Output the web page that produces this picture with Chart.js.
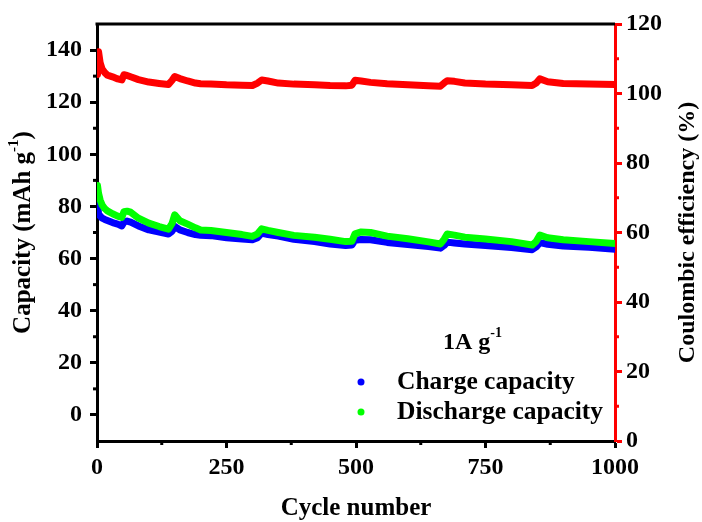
<!DOCTYPE html>
<html>
<head>
<meta charset="utf-8">
<script src="https://cdn.jsdelivr.net/npm/chart.js@4.4.1/dist/chart.umd.min.js"></script>
<style>
  html, body { margin:0; padding:0; background:#fff; }
  #wrap { width:702px; height:522px; }
</style>
</head>
<body>
<div id="wrap"><canvas id="chart" width="702" height="522"></canvas></div>
<script>
// Cycle data (sampled cycles) for charge/discharge capacity and coulombic efficiency
const cycles = [1,3,6,10,15,20,30,40,48,52,58,65,80,100,120,138,145,150,160,175,190,200,220,250,280,300,310,318,330,350,380,420,450,480,492,498,510,528,560,600,640,663,670,676,690,710,750,800,840,848,855,870,900,950,1000];
const chargeCap = [82,77,76.3,75.5,75,74.6,73.8,73.2,72.5,74,74.4,74,72.5,71,70.2,69.4,70.5,72.4,71,70,69.2,68.9,68.8,68,67.5,67.2,68,69.8,69.2,68.6,67.4,66.5,65.6,65,65.2,67,67.3,67.2,66.2,65.4,64.6,64,65,66.3,66,65.6,65,64.2,63.4,64.5,66.1,65.5,64.8,64.3,63.6];
const dischargeCap = [88,85,82.5,80.5,79.2,78.3,77.2,76.3,75.8,78,78.2,77.8,75.5,73.6,72.3,71.3,73.5,76.8,74.5,73.2,71.8,71,70.8,70,69.2,68.5,69.5,71.4,70.8,70,68.9,68.2,67.4,66.5,66.6,69.5,70.2,70,68.6,67.6,66.4,65.6,67.4,69.4,69,68.2,67.5,66.5,65.2,66.6,69,68,67.2,66.5,65.8];
const coulombic = [105.5,112,108.9,107,106,105.3,104.8,104.2,103.9,105.4,105.2,104.8,104,103.3,102.9,102.6,103.8,104.9,104.3,103.6,103,102.8,102.7,102.5,102.4,102.3,103,103.9,103.6,103,102.7,102.5,102.3,102.2,102.4,103.8,103.6,103.2,102.8,102.5,102.2,102.1,103,103.7,103.5,103,102.7,102.5,102.3,103,104.2,103.4,102.9,102.7,102.6];

const xTicks = [0,250,500,750,1000];
const xMinor = [125,375,625,875];
const capTicks = [0,20,40,60,80,100,120,140];
const capMinor = [10,30,50,70,90,110,130];
const ceTicks = [0,20,40,60,80,100,120];
const ceMinor = [10,30,50,70,90,110];

const FONT = '"Liberation Serif", "Times New Roman", serif';
const RED = '#ff0000';
const TICK_FONT = { family: FONT, size: 24, weight: 'bold' };

function pts(vals){ return cycles.map((c,i)=>({ x:c, y:vals[i] })); }

// draws text with an optional superscript part, centred on x
function richText(ctx, parts, x, y, size, align){
  const widths = parts.map(p=>{
    ctx.font = 'bold '+(p.sup ? Math.round(size*0.6) : size)+'px '+FONT;
    return ctx.measureText(p.t).width;
  });
  const total = widths.reduce((a,b)=>a+b,0);
  let cx = align==='left' ? x : x - total/2;
  ctx.textAlign = 'left';
  ctx.textBaseline = 'middle';
  parts.forEach((p,i)=>{
    ctx.font = 'bold '+(p.sup ? Math.round(size*0.6) : size)+'px '+FONT;
    ctx.fillText(p.t, cx, p.sup ? y - size*0.4 : y);
    cx += widths[i];
  });
}

const extras = {
  id: 'extras',
  afterDraw(chart){
    const ctx = chart.ctx;
    const a = chart.chartArea;
    const sx = chart.scales.x, sl = chart.scales.yL, sr = chart.scales.yR;
    ctx.save();
    // top frame
    ctx.strokeStyle = '#000';
    ctx.lineWidth = 3;
    ctx.beginPath();
    ctx.moveTo(a.left-1.5, a.top);
    ctx.lineTo(a.right, a.top);
    ctx.stroke();
    // minor ticks
    xMinor.forEach(v=>{
      const px = sx.getPixelForValue(v);
      ctx.beginPath(); ctx.moveTo(px, a.bottom); ctx.lineTo(px, a.bottom+4); ctx.stroke();
    });
    capMinor.forEach(v=>{
      const py = sl.getPixelForValue(v);
      ctx.beginPath(); ctx.moveTo(a.left, py); ctx.lineTo(a.left-4, py); ctx.stroke();
    });
    ctx.strokeStyle = RED;
    ceMinor.forEach(v=>{
      const py = sr.getPixelForValue(v);
      ctx.beginPath(); ctx.moveTo(a.right, py); ctx.lineTo(a.right+4, py); ctx.stroke();
    });

    ctx.fillStyle = '#000';
    // axis titles
    richText(ctx, [{t:'Cycle number'}], (a.left+a.right)/2, 509, 25);
    ctx.save();
    ctx.translate(24, (a.top+a.bottom)/2);
    ctx.rotate(-Math.PI/2);
    richText(ctx, [{t:'Capacity (mAh g'},{t:'-1',sup:true},{t:')'}], 0, 0, 25);
    ctx.restore();
    ctx.save();
    ctx.translate(688, (a.top+a.bottom)/2);
    ctx.rotate(-Math.PI/2);
    richText(ctx, [{t:'Coulombic efficiency (%)'}], 0, 0, 24);
    ctx.restore();

    // current density note and legend
    richText(ctx, [{t:'1A g'},{t:'-1',sup:true}], 443, 343, 24, 'left');
    const legend = [['Charge capacity','#0000ff',382],['Discharge capacity','#00ff00',412]];
    legend.forEach(([label,color,y])=>{
      ctx.fillStyle = color;
      ctx.beginPath(); ctx.arc(361, y, 3.5, 0, Math.PI*2); ctx.fill();
      ctx.fillStyle = '#000';
      richText(ctx, [{t:label}], 397, y, 25.5, 'left');
    });
    ctx.restore();
  }
};

function fixTicks(list){ return axis=>{ axis.ticks = list.map(v=>({ value:v })); }; }
const plain = v => String(v);

new Chart(document.getElementById('chart'), {
  type: 'line',
  data: {
    datasets: [
      { label:'Discharge capacity', data:pts(dischargeCap), yAxisID:'yL', borderColor:'#00ff00', order:0 },
      { label:'Coulombic efficiency', data:pts(coulombic), yAxisID:'yR', borderColor:RED, order:1 },
      { label:'Charge capacity', data:pts(chargeCap), yAxisID:'yL', borderColor:'#0000ff', order:2 }
    ]
  },
  options: {
    responsive: false,
    animation: false,
    datasets: { line: { borderWidth:7, pointRadius:0, tension:0, borderCapStyle:'round', borderJoinStyle:'round' } },
    layout: { padding: { top:24, left:0, right:0, bottom:0 } },
    plugins: { legend:{ display:false }, tooltip:{ enabled:false } },
    scales: {
      x: {
        type:'linear', position:'bottom', min:0, max:1000,
        afterBuildTicks: fixTicks(xTicks),
        afterFit(s){ s.height = 81; },
        border: { color:'#000', width:3 },
        grid: { drawOnChartArea:false, tickLength:7, tickWidth:3, tickColor:'#000' },
        ticks: { font:TICK_FONT, color:'#000', padding:5, maxRotation:0, callback:plain }
      },
      yL: {
        type:'linear', position:'left', min:-10, max:150,
        afterBuildTicks: fixTicks(capTicks),
        afterFit(s){ s.width = 97; },
        border: { color:'#000', width:3 },
        grid: { drawOnChartArea:false, tickLength:7, tickWidth:3, tickColor:'#000' },
        ticks: { font:TICK_FONT, color:'#000', padding:8, callback:plain }
      },
      yR: {
        type:'linear', position:'right', min:0, max:120,
        afterBuildTicks: fixTicks(ceTicks),
        afterFit(s){ s.width = 87; },
        border: { color:RED, width:3 },
        grid: { drawOnChartArea:false, tickLength:7, tickWidth:3, tickColor:RED },
        ticks: { font:TICK_FONT, color:'#000', padding:4, callback:plain }
      }
    }
  },
  plugins: [extras]
});
</script>
</body>
</html>
